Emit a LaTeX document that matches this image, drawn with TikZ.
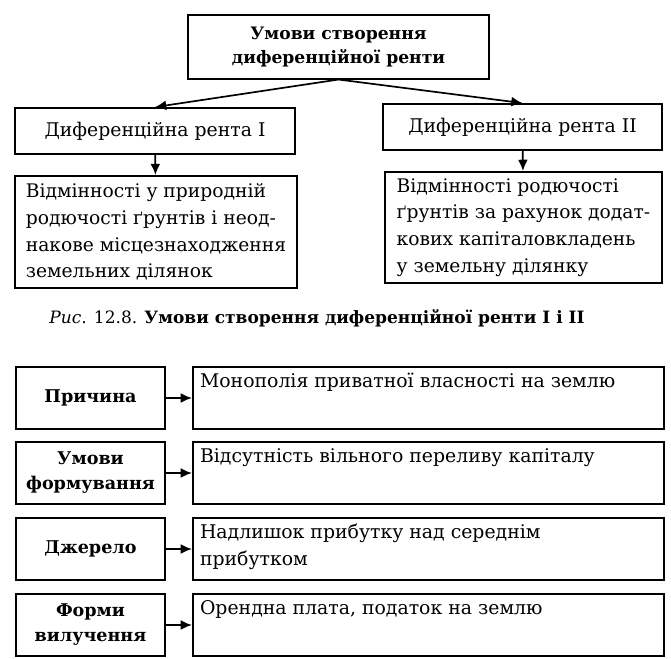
\documentclass[tikz,border=0pt]{standalone}
\usepackage{fontspec}
\setmainfont{DejaVu Serif}
\usetikzlibrary{arrows.meta}

\begin{document}
\begin{tikzpicture}[x=0.025cm,y=-0.025cm,
                    >={Latex[length=8pt,width=7pt]},
                    main node/.style={draw,line width=1.3pt,align=center,inner sep=2pt},
                    head node/.style={main node,font=\bfseries\fontsize{12.2}{17.5}\selectfont},
                    rent node/.style={main node,minimum width=7cm,minimum height=1.15cm,font=\fontsize{13.4}{17.5}\selectfont},
                    text node/.style={main node,align=left,minimum width=7.05cm,minimum height=2.8cm,font=\fontsize{13.3}{19}\selectfont},
                    key node/.style={main node,minimum width=3.73cm,minimum height=1.55cm,font=\bfseries\fontsize{12.5}{17.8}\selectfont},
                    fact node/.style={main node,align=left,inner xsep=0.18cm,inner ysep=0.12cm,font=\fontsize{13.4}{19.2}\selectfont}]

  \useasboundingbox (0,0) rectangle (671,658);

  \node[head node,minimum width=7.53cm,minimum height=1.58cm] (top) at (338.5,47) {Умови створення\\диференційної ренти};
  \node[rent node] (d1) at (155,131) {Диференційна рента I};
  \node[rent node,minimum width=6.98cm] (d2) at (522.5,127) {Диференційна рента II};
  \node[text node] (v1) at (156,232) {Відмінності у природній\\родючості ґрунтів і неод-\\накове місцезнаходження\\земельних ділянок};
  \node[text node,minimum width=6.93cm,minimum height=2.78cm] (v2) at (523.5,227.5) {Відмінності родючості\\ґрунтів за рахунок додат-\\кових капіталовкладень\\у земельну ділянку};
  \node (cap) at (317,318) {\fontsize{12.1}{14}\selectfont\textit{Рис}. 12.8. \textbf{Умови створення диференційної ренти I і II}};

  \node[key node] (k1) at (90.5,398) {Причина};
  \node[key node] (k2) at (90.5,473) {Умови\\формування};
  \node[key node] (k3) at (90.5,549) {Джерело};
  \node[key node] (k4) at (90.5,625) {Форми\\вилучення};

  \node[fact node] (f1) at (428.5,398) {\parbox[c][1.31cm][t]{11.42cm}{\vspace*{1pt}Монополія приватної власності на землю}};
  \node[fact node] (f2) at (428.5,473) {\parbox[c][1.31cm][t]{11.42cm}{\vspace*{1pt}Відсутність вільного переливу капіталу}};
  \node[fact node] (f3) at (428.5,549) {\parbox[c][1.31cm][t]{11.42cm}{\vspace*{1pt}Надлишок прибутку над середнім\\прибутком}};
  \node[fact node] (f4) at (428.5,625) {\parbox[c][1.31cm][t]{11.42cm}{\vspace*{1pt}Орендна плата, податок на землю}};

  \path[->,line width=1.2pt]
    (top.south) edge (d1.north)
    (top.south) edge (d2.north)
    (d1) edge (v1)
    (d2) edge (v2)
    (k1) edge (f1)
    (k2) edge (f2)
    (k3) edge (f3)
    (k4) edge (f4);
\end{tikzpicture}
\end{document}
